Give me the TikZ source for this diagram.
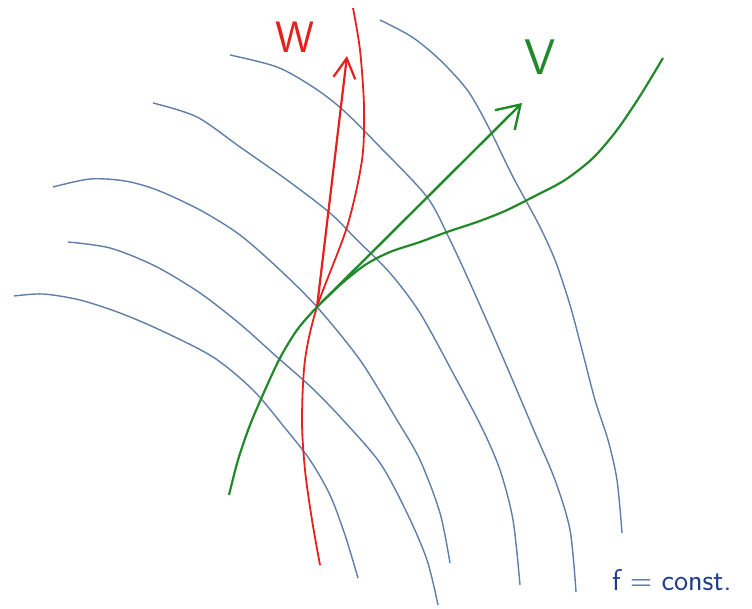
\documentclass[tikz,border=0pt]{standalone}
\usetikzlibrary{arrows.meta}
\definecolor{levelblue}{HTML}{5F7EA8}
\definecolor{wred}{HTML}{E4211E}
\definecolor{vgreen}{HTML}{22892A}
\definecolor{inkblue}{HTML}{1E3E8C}
\begin{document}
\begin{tikzpicture}[x=1pt,y=-1pt,
  level/.style={levelblue,line width=1.4pt},
  wcurve/.style={wred,line width=1.8pt},
  vcurve/.style={vgreen,line width=2.2pt},
  hand/.style={font=\sffamily\fontsize{#1}{#1}\selectfont,inner sep=0pt}]
\useasboundingbox (0,0) rectangle (752,609);
% level sets f = const
\draw[level] plot[smooth] coordinates {(14,296) (43,294) (80,300) (120,313) (160,330) (213,357) (253,390) (285,428) (310,460) (330,495) (345,535) (358,578)};
\draw[level] plot[smooth] coordinates {(68,242) (110,248) (155,266) (200,293) (240,324) (277,357) (312,388) (343,420) (380,463) (407,513) (427,560) (438,605)};
\draw[level] plot[smooth] coordinates {(53,187) (90,179) (125,181) (157,190) (200,210) (240,235) (280,270) (317,307) (360,360) (397,420) (420,460) (440,513) (450,563)};
\draw[level] plot[smooth] coordinates {(153,103) (197,117) (240,147) (287,180) (330,213) (357,240) (390,273) (420,313) (453,373) (482,428) (500,470) (513,520) (520,585)};
\draw[level] plot[smooth] coordinates {(230,55) (277,67) (313,87) (343,110) (380,147) (427,197) (450,240) (470,283) (490,328) (507,367) (535,433) (555,480) (570,530) (576,592)};
\draw[level] plot[smooth] coordinates {(380,20) (412,37) (440,60) (468,91) (490,130) (513,177) (538,223) (555,260) (570,305) (582,350) (595,400) (608,440) (617,480) (622,533)};
% flow lines through p
\coordinate (p) at (317,307);
\draw[wcurve] plot[smooth] coordinates {(353,8) (360,50) (364,107) (362,160) (347,227) (317,307) (305,360) (302,420) (305,470) (312,520) (320,565)};
\draw[vcurve] plot[smooth] coordinates {(229,495) (238,460) (250,425) (265,390) (280,358) (297,330) (317,307) (340,285) (365,265) (390,252) (420,242) (447,232) (477,222) (505,211) (535,196) (565,180) (593,158) (617,130) (640,96) (663,58)};
% the two vectors at p
\coordinate (wtip) at (347,56);
\coordinate (vtip) at (522,103);
\draw[wcurve,line width=2.2pt,-{Straight Barb[length=20pt,width=22pt]}] (p) -- (wtip);
\draw[vcurve,line width=2.4pt,-{Straight Barb[length=22pt,width=28pt]}] (p) -- (vtip);
\node[hand=44,text=wred] (wlabel) at (295,37) {W};
\node[hand=50,text=vgreen] (vlabel) at (540,57) {V};
\node[hand=30,text=inkblue,anchor=base west] (fconst) at (612,590) {f = const.};
\end{tikzpicture}
\end{document}
